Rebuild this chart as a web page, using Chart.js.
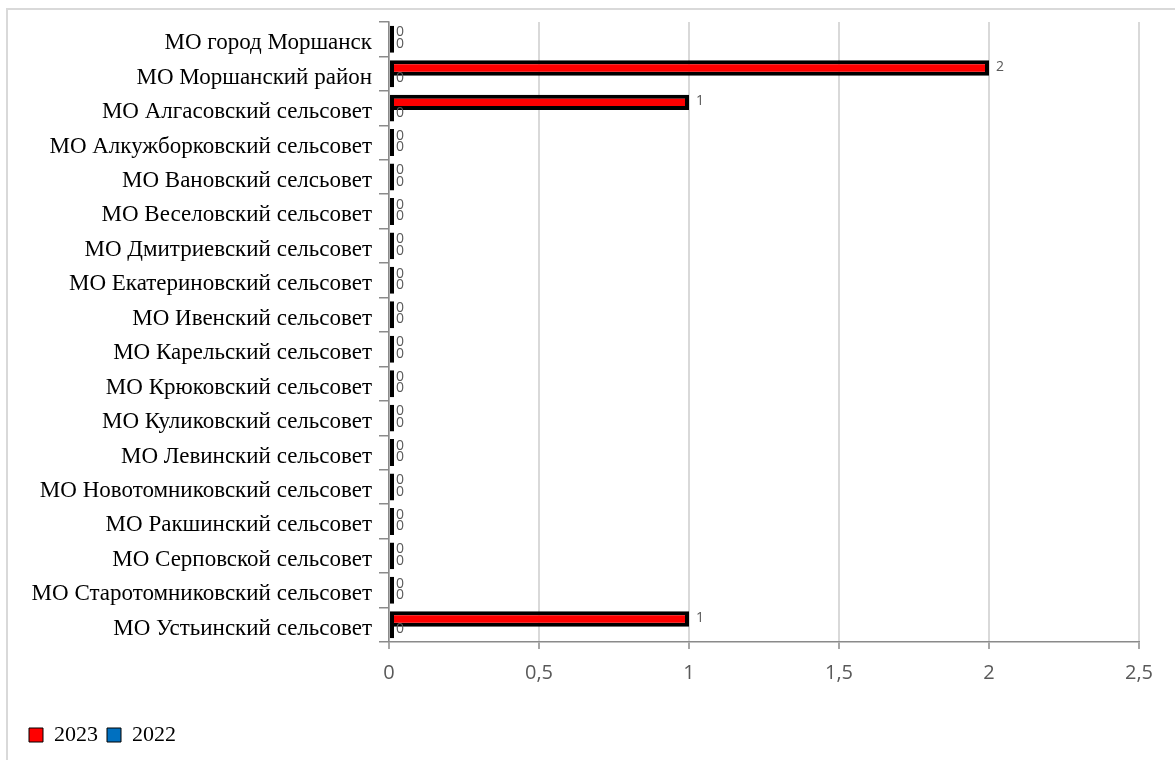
<!DOCTYPE html>
<html>
<head>
<meta charset="utf-8">
<script src="https://cdn.jsdelivr.net/npm/chart.js@4/dist/chart.umd.min.js"></script>
<style>
  html, body { margin: 0; padding: 0; background: #fff; overflow: hidden; }
  #frame { position: absolute; left: 6px; top: 8px; width: 1300px; height: 900px; border-left: 2px solid #d9d9d9; border-top: 2px solid #d9d9d9; box-sizing: border-box; }
  #c { position: absolute; left: 0; top: 0; }
</style>
</head>
<body>
<div id="frame"></div>
<canvas id="c" width="1175" height="760"></canvas>
<script>
const categories = [
  'МО город Моршанск',
  'МО Моршанский район',
  'МО Алгасовский сельсовет',
  'МО Алкужборковский сельсовет',
  'МО Вановский селсьовет',
  'МО Веселовский сельсовет',
  'МО Дмитриевский сельсовет',
  'МО Екатериновский сельсовет',
  'МО Ивенский сельсовет',
  'МО Карельский сельсовет',
  'МО Крюковский сельсовет',
  'МО Куликовский сельсовет',
  'МО Левинский сельсовет',
  'МО Новотомниковский сельсовет',
  'МО Ракшинский сельсовет',
  'МО Серповской сельсовет',
  'МО Старотомниковский сельсовет',
  'МО Устьинский сельсовет'
];
const values2023 = [0, 2, 1, 0, 0, 0, 0, 0, 0, 0, 0, 0, 0, 0, 0, 0, 0, 1];
const values2022 = [0, 0, 0, 0, 0, 0, 0, 0, 0, 0, 0, 0, 0, 0, 0, 0, 0, 0];
const seriesNames = ['2023', '2022'];
const xTicks = [0, 0.5, 1, 1.5, 2, 2.5];

const fmt = v => String(v).replace('.', ',');

const valueLabels = {
  id: 'valueLabels',
  afterDatasetsDraw(chart) {
    const ctx = chart.ctx;
    const xs = chart.scales.x;
    ctx.save();
    ctx.font = '14px "Open Sans"';
    ctx.fillStyle = '#595959';
    ctx.textBaseline = 'middle';
    ctx.textAlign = 'left';
    chart.data.datasets.forEach((ds, i) => {
      const meta = chart.getDatasetMeta(i);
      meta.data.forEach((el, j) => {
        const v = ds.data[j];
        ctx.fillText(fmt(v), xs.getPixelForValue(v) + 7, el.y - 1);
      });
    });
    ctx.restore();
  }
};

const axisGrey = '#8a8a8a';

new Chart(document.getElementById('c'), {
  type: 'bar',
  data: {
    labels: categories,
    datasets: [
      {
        label: seriesNames[0],
        data: values2023,
        backgroundColor: '#ff0000',
        borderColor: '#000000',
        borderWidth: 4,
        borderSkipped: false,
        minBarLength: 5,
        categoryPercentage: 0.666,
        barPercentage: 1.35
      },
      {
        label: seriesNames[1],
        data: values2022,
        backgroundColor: '#0070c0',
        borderColor: '#000000',
        borderWidth: 4,
        borderSkipped: false,
        minBarLength: 5,
        categoryPercentage: 0.666,
        barPercentage: 1.35
      }
    ]
  },
  options: {
    indexAxis: 'y',
    responsive: false,
    animation: false,
    layout: { padding: { left: 20, right: 36, top: 22, bottom: 4 } },
    scales: {
      x: {
        min: 0,
        max: 2.5,
        afterBuildTicks: (scale) => { scale.ticks = xTicks.map(v => ({ value: v })); },
        afterFit: (scale) => { scale.height = 73; },
        grid: { color: '#d9d9d9', lineWidth: 2, tickColor: axisGrey, tickLength: 7, tickWidth: 1.5 },
        border: { display: true, color: axisGrey, width: 1.5 },
        ticks: {
          padding: 12,
          color: '#595959',
          font: { family: '"Open Sans"', size: 20 },
          callback: (v) => fmt(v)
        }
      },
      y: {
        afterFit: (scale) => { scale.width = 369; },
        grid: { display: true, drawOnChartArea: false, offset: true, color: axisGrey, tickLength: 10, lineWidth: 1.5 },
        border: { display: true, color: axisGrey, width: 1.5 },
        ticks: {
          padding: 7,
          labelOffset: 4,
          color: '#000000',
          autoSkip: false,
          font: { family: '"Liberation Serif"', size: 23 }
        }
      }
    },
    plugins: {
      tooltip: { enabled: false },
      legend: {
        position: 'bottom',
        align: 'start',
        labels: {
          boxWidth: 14,
          boxHeight: 14,
          padding: 9,
          color: '#000000',
          font: { family: '"Liberation Serif"', size: 22 },
          generateLabels: (chart) => {
            const items = Chart.defaults.plugins.legend.labels.generateLabels(chart);
            items.forEach(it => { it.lineWidth = 1; it.strokeStyle = '#000000'; });
            return items;
          }
        }
      }
    }
  },
  plugins: [valueLabels]
});
</script>
</body>
</html>
